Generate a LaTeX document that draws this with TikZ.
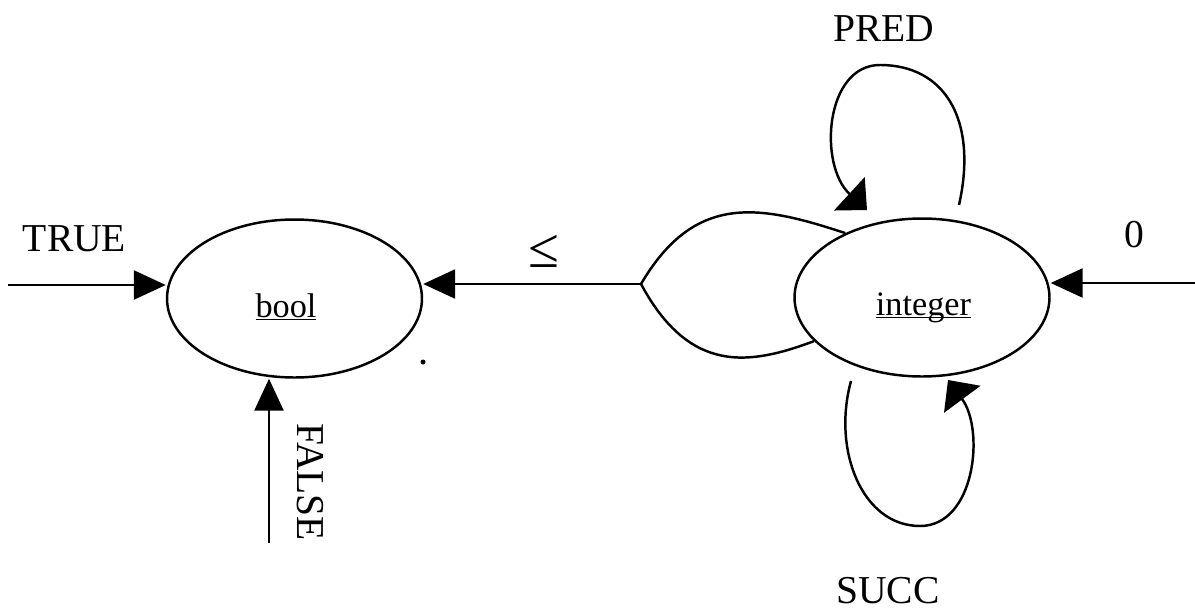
\documentclass[tikz,border=0pt]{standalone}
\usepackage{fontspec}
\setmainfont{Liberation Serif}
\usetikzlibrary{shapes.geometric,arrows.meta}
\newcommand{\ulword}[1]{\underline{\smash{#1}}}
\begin{document}
\begin{tikzpicture}[x=0.02cm,y=-0.02cm,line width=1.4pt,
  state/.style={draw, ellipse, minimum width=5.1cm, minimum height=3.16cm, inner sep=0pt},
  lbl/.style={font=\fontsize{22.5}{27}\selectfont, inner sep=0pt},
  sortname/.style={font=\fontsize{19.5}{23}\selectfont, inner sep=0pt, anchor=base},
  arr/.style={-{Triangle[length=0.64cm,width=0.58cm]}},
  looparr/.style={-{Triangle[length=0.48cm,width=0.9cm]}}]
\useasboundingbox (0,0) rectangle (1195,612);

% the two sorts
\node[state] (bool) at (294.5,298.5) {};
\node[state] (int) at (922,297.5) {};
\node[sortname] (boolname) at (286,317) {\ulword{bool}};
\node[sortname] (intname) at (923.5,315) {\ulword{integer}};

% constants TRUE and FALSE
\coordinate (t0) at (8,285);
\draw[arr] (t0) -- (t0 -| bool.west);
\node[lbl] (truel) at (74.5,239) {TRUE};
\coordinate (f0) at (269,543);
\draw[arr] (f0) -- (f0 |- bool.south);
\node[lbl, rotate=-90] (falsel) at (310,482) {FALSE};

% comparison: two integer arguments, one bool result
\coordinate (join) at (641,284);
\draw (int.140) .. controls (760,205) and (695,192) .. (join);
\draw (int.202) .. controls (750,365) and (690,375) .. (join);
\draw[arr] (join) -- (join -| bool.east);
\node[lbl, font=\fontsize{32}{36}\selectfont] (lel) at (544,251) {≤};

% constant 0
\coordinate (z0) at (1195,283);
\draw[arr] (z0) -- (z0 -| int.east);
\node[lbl] (zerol) at (1134,235) {0};

% PRED loop
\coordinate (p0) at (959,205);
\coordinate (p1) at (867,210);
\draw[looparr] (p0) .. controls (978,120) and (945,65) .. (880,65)
  .. controls (825,65) and (818,165) .. (p1);
\node[lbl] (predl) at (884,28.5) {PRED};

% SUCC loop
\coordinate (s0) at (851,381);
\coordinate (s1) at (948,380);
\draw[looparr] (s0) .. controls (832,450) and (862,526) .. (920,526)
  .. controls (975,526) and (985,430) .. (s1);
\node[lbl] (succl) at (888,591) {SUCC};

\fill (423,362) circle[radius=0.05cm];
\end{tikzpicture}
\end{document}
